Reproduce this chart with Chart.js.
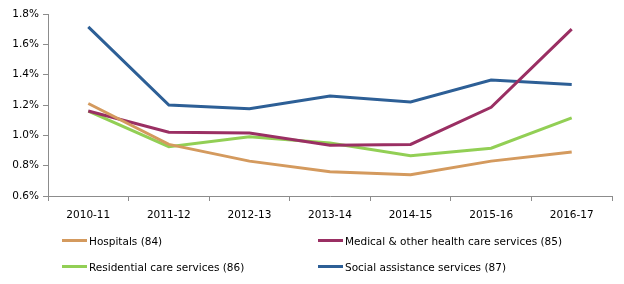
<!DOCTYPE html>
<html>
<head>
<meta charset="utf-8">
<script src="https://cdn.jsdelivr.net/npm/chart.js@4/dist/chart.umd.min.js"></script>
<style>
  html, body { margin: 0; padding: 0; background: #fff; }
  #wrap { position: relative; width: 624px; height: 284px; }
  #legend {
    position: absolute; left: 62px; top: 232px;
    display: grid; grid-template-columns: 256px 300px; row-gap: 9px;
    font: 10.5px "DejaVu Sans", sans-serif; color: #000;
  }
  #legend .item { display: flex; align-items: center; height: 17px; white-space: nowrap; }
  #legend .swatch { width: 25px; height: 3px; margin-right: 2px; }
</style>
</head>
<body>
<div id="wrap">
  <canvas id="chart" width="624" height="284"></canvas>
  <div id="legend"></div>
</div>
<script>
// Financial years on the x axis
const years = ['2010-11', '2011-12', '2012-13', '2013-14', '2014-15', '2015-16', '2016-17'];

// Values in percent
const hospitals   = [1.21, 0.94, 0.83, 0.76, 0.74, 0.83, 0.89];
const medical     = [1.16, 1.02, 1.015, 0.935, 0.94, 1.185, 1.70];
const residential = [1.16, 0.925, 0.99, 0.95, 0.865, 0.915, 1.115];
const social      = [1.715, 1.20, 1.175, 1.26, 1.22, 1.365, 1.335];

const yTicks = [0.6, 0.8, 1.0, 1.2, 1.4, 1.6, 1.8];

const seriesNames = [
    'Hospitals (84)',
    'Medical & other health care services (85)',
    'Residential care services (86)',
    'Social assistance services (87)'
];
const seriesColors = ['#d49a5e', '#9a2f63', '#92cf55', '#2d5f96'];

const axisColor = '#8c8c8c';
const font = { family: '"DejaVu Sans", sans-serif', size: 10.5 };

const datasets = [hospitals, medical, residential, social].map((vals, i) => ({
    label: seriesNames[i],
    data: vals,
    borderColor: seriesColors[i],
    backgroundColor: seriesColors[i],
    borderWidth: 3,
    pointRadius: 0,
    tension: 0,
    fill: false
}));

const chart = new Chart(document.getElementById('chart'), {
    type: 'line',
    data: { labels: years, datasets: datasets },
    options: {
        responsive: false,
        animation: false,
        layout: { padding: { top: 14, right: 12, left: 0, bottom: 58 } },
        plugins: { legend: { display: false }, tooltip: { enabled: false } },
        scales: {
            x: {
                offset: true,
                grid: {
                    offset: true,
                    drawOnChartArea: false,
                    color: axisColor,
                    tickLength: 5
                },
                border: { color: axisColor, width: 1 },
                ticks: { color: '#000', font: font, padding: 8, maxRotation: 0 },
                afterFit: s => { s.height = 30; }
            },
            y: {
                min: 0.6,
                max: 1.8,
                afterBuildTicks: s => { s.ticks = yTicks.map(v => ({ value: v })); },
                grid: {
                    drawOnChartArea: false,
                    color: axisColor,
                    tickLength: 5
                },
                border: { color: axisColor, width: 1 },
                ticks: {
                    color: '#000',
                    font: font,
                    padding: 4,
                    callback: v => v.toFixed(1) + '%'
                },
                afterFit: s => { s.width = 48; }
            }
        }
    }
});

// Two-column legend built from the chart's datasets
const legend = document.getElementById('legend');
chart.data.datasets.forEach(ds => {
    const item = document.createElement('div');
    item.className = 'item';
    const sw = document.createElement('span');
    sw.className = 'swatch';
    sw.style.background = ds.borderColor;
    const txt = document.createElement('span');
    txt.textContent = ds.label;
    item.appendChild(sw);
    item.appendChild(txt);
    legend.appendChild(item);
});
</script>
</body>
</html>
